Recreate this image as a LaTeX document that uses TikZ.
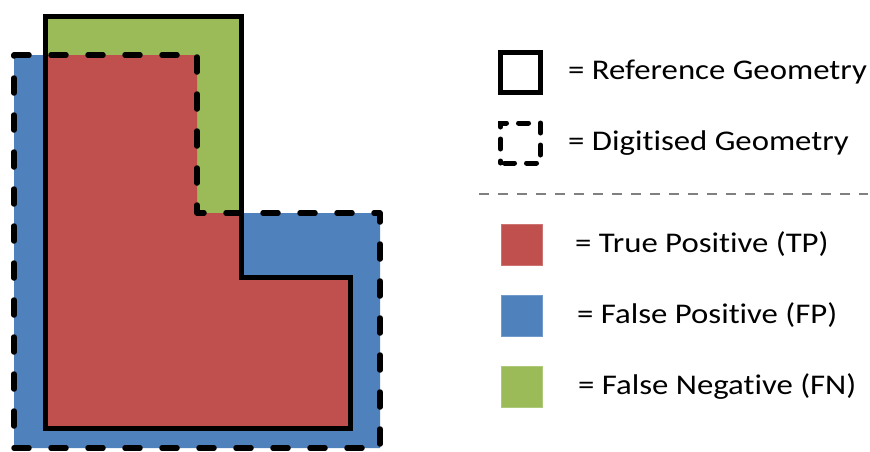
\documentclass[tikz,border=0pt]{standalone}
\usepackage{fontspec}
\setmainfont{Carlito}[FakeStretch=1.15, Ligatures={NoCommon}]
\definecolor{tpred}{HTML}{C0504D}
\definecolor{fpblue}{HTML}{4F81BD}
\definecolor{fngreen}{HTML}{9BBB59}
\definecolor{sepgray}{HTML}{808080}
\tikzset{
  refline/.style={draw=black, line width=5pt, line join=miter},
  digline/.style={draw=black, line width=5.5pt, line cap=round, line join=round, dash pattern=on 15pt off 22pt},
  swatch/.style={minimum width=41pt, minimum height=41pt, inner sep=0pt, draw=#1!80!white, line width=0.6pt, fill=#1},
  legtext/.style={anchor=west, inner sep=0pt, font=\fontsize{28.5}{34}\selectfont}
}
\begin{document}
\begin{tikzpicture}[x=1pt,y=-1pt]
\useasboundingbox (0,0) rectangle (870,451);
% outlines of the two geometries
\def\refpath{(45,16) -- (241,16) -- (241,277) -- (350,277) -- (350,428) -- (45,428) -- cycle}
\def\digpath{(14,55) -- (197,55) -- (197,213) -- (380,213) -- (380,448) -- (14,448) -- cycle}
% false positive: digitised area
\fill[fpblue] \digpath;
% false negative: reference area
\fill[fngreen] \refpath;
% true positive: overlap of both
\begin{scope}
  \clip \digpath;
  \fill[tpred] \refpath;
\end{scope}
\draw[refline] \refpath;
\draw[digline] \digpath;
% legend
\node[minimum width=40pt, minimum height=40pt, inner sep=0pt, refline] (kref) at (520.5,72) {};
\node[legtext] (tref) at (568,72) {= Reference Geometry};
\node[minimum width=40pt, minimum height=40pt, inner sep=0pt, draw=black, line width=5pt, line cap=round, dash pattern=on 10pt off 12pt, dash phase=-4pt] (kdig) at (520.5,143) {};
\node[legtext] (tdig) at (568,143) {= Digitised Geometry};
\coordinate (sepL) at (479,194);
\coordinate (sepR) at (868,194);
\draw[sepgray, line width=2.5pt, dash pattern=on 10pt off 9pt] (sepL) -- (sepR);
\node[swatch=tpred] (ktp) at (521.5,244.5) {};
\node[legtext] (ttp) at (575,244.5) {= True Positive (TP)};
\node[swatch=fpblue] (kfp) at (521.5,315.5) {};
\node[legtext] (tfp) at (577,315.5) {= False Positive (FP)};
\node[swatch=fngreen] (kfn) at (521.5,387) {};
\node[legtext] (tfn) at (578,387) {= False Negative (FN)};
\end{tikzpicture}
\end{document}
